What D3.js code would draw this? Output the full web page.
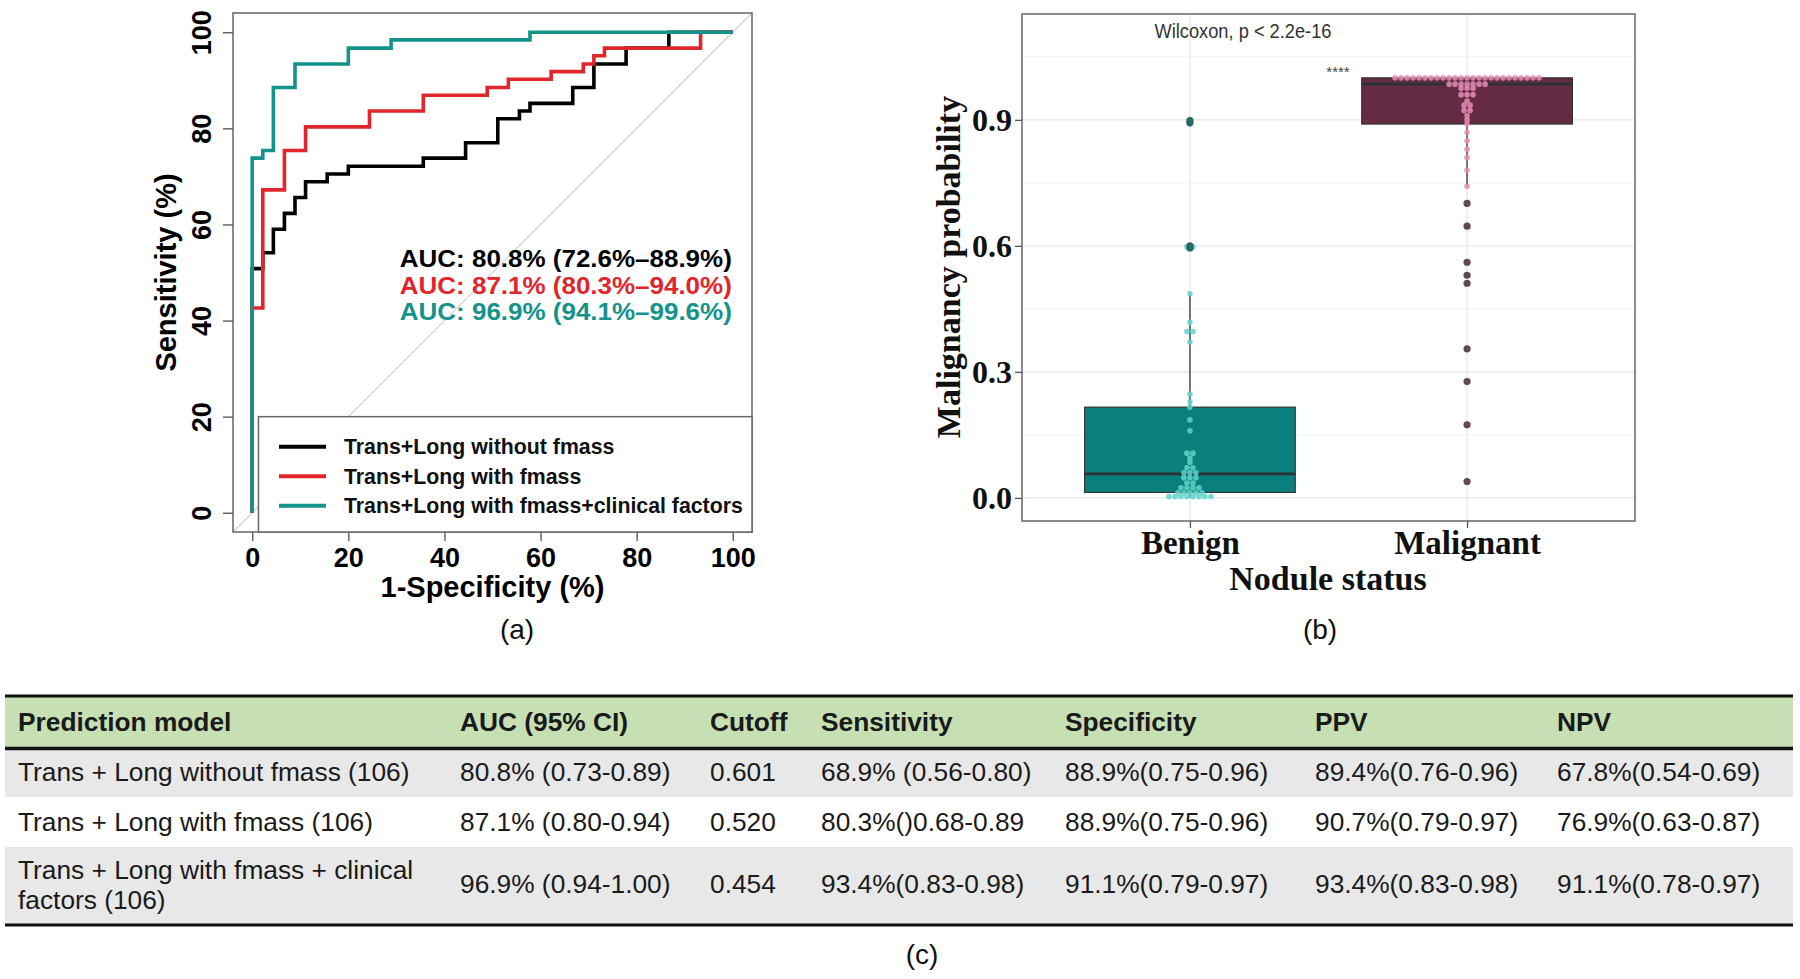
<!DOCTYPE html>
<html><head><meta charset="utf-8">
<script src="https://cdn.jsdelivr.net/npm/d3@7"></script>
<style>body{margin:0;background:#fff}</style>
</head><body><svg id="c" width="1800" height="979"></svg>
<script>
// ---------------- DATA ----------------
// (a) ROC curves: 1-specificity (%) and sensitivity (%) step corners
const rocTicks = [0, 20, 40, 60, 80, 100];
const rocNames = ["Trans+Long without fmass", "Trans+Long with fmass", "Trans+Long with fmass+clinical factors"];
const rocColors = ["#000000", "#E0262B", "#14938A"];
const fprWithout = [0, 0, 2.2, 4.4, 6.7, 8.9, 11.1, 15.6, 20.0, 35.6, 44.4, 51.1, 55.6, 57.8, 66.7, 71.1, 77.8, 86.7, 100];
const sensWithout = [0, 50.8, 54.1, 59.0, 62.3, 65.6, 68.9, 70.5, 72.1, 73.8, 77.0, 82.0, 83.6, 85.2, 88.5, 93.4, 96.7, 100, 100];
const fprWith = [0, 0, 2.2, 6.7, 11.1, 24.4, 35.6, 48.9, 53.3, 62.2, 68.9, 71.1, 73.3, 93.3, 100];
const sensWith = [0, 42.6, 67.2, 75.4, 80.3, 83.6, 86.9, 88.5, 90.2, 91.8, 93.4, 95.1, 96.7, 100, 100];
const fprClinical = [0, 0, 2.2, 4.4, 8.9, 20.0, 28.9, 57.8, 100];
const sensClinical = [0, 73.8, 75.4, 88.5, 93.4, 96.7, 98.4, 100, 100];
const aucLabels = ["AUC: 80.8% (72.6%–88.9%)", "AUC: 87.1% (80.3%–94.0%)", "AUC: 96.9% (94.1%–99.6%)"];

// (b) Box / dot plot of malignancy probability
const categories = ["Benign", "Malignant"];
const boxColors = ["#0A807D", "#652B45"];
const dotColors = ["#5FD5CB", "#E88DB4"];
const outlierColors = ["#2A6463", "#624656"];
const benignValues = [0.001, 0.002, 0.002, 0.003, 0.003, 0.004, 0.004, 0.005,
  0.010, 0.011, 0.012, 0.013, 0.014, 0.022, 0.024, 0.025, 0.026, 0.034, 0.037,
  0.045, 0.048, 0.050, 0.057, 0.060, 0.062, 0.070, 0.073, 0.085, 0.095, 0.105, 0.108,
  0.160, 0.186, 0.216, 0.229, 0.247, 0.371, 0.394, 0.398, 0.418, 0.486,
  0.595, 0.600, 0.893, 0.898];
const malignantValues = [0.039, 0.174, 0.277, 0.355, 0.511, 0.530, 0.561, 0.647, 0.701,
  0.742, 0.780, 0.810, 0.830, 0.850, 0.870,
  0.890, 0.900, 0.910, 0.920, 0.925, 0.930, 0.940, 0.945, 0.955, 0.960, 0.965,
  0.975, 0.975, 0.975,
  0.985, 0.985, 0.985, 0.985, 0.985, 0.985, 0.985,
  1.0, 1.0, 1.0, 1.0, 1.0, 1.0, 1.0, 1.0, 1.0, 1.0, 1.0, 1.0, 1.0, 1.0, 1.0, 1.0, 1.0,
  1.0, 1.0, 1.0, 1.0, 1.0, 1.0, 1.0, 1.0];
const probTicks = [0, 0.3, 0.6, 0.9];
const probMinor = [0.15, 0.45, 0.75, 1.05];
const testLabel = "Wilcoxon, p < 2.2e-16";
const signifLabel = "****";

// (c) table
const tableHeader = ["Prediction model", "AUC (95% CI)", "Cutoff", "Sensitivity", "Specificity", "PPV", "NPV"];
const tableRow1 = ["Trans + Long without fmass (106)", "80.8% (0.73-0.89)", "0.601", "68.9% (0.56-0.80)", "88.9%(0.75-0.96)", "89.4%(0.76-0.96)", "67.8%(0.54-0.69)"];
const tableRow2 = ["Trans + Long with fmass (106)", "87.1% (0.80-0.94)", "0.520", "80.3%()0.68-0.89", "88.9%(0.75-0.96)", "90.7%(0.79-0.97)", "76.9%(0.63-0.87)"];
const tableRow3 = ["Trans + Long with fmass + clinical|factors (106)", "96.9% (0.94-1.00)", "0.454", "93.4%(0.83-0.98)", "91.1%(0.79-0.97)", "93.4%(0.83-0.98)", "91.1%(0.78-0.97)"];
const panelLabels = ["(a)", "(b)", "(c)"];

// ---------------- DRAW ----------------
const svg = d3.select("#c");
svg.append("rect").attr("width", 1800).attr("height", 979).attr("fill", "#fff");
const SANS = "'Liberation Sans', Arial, sans-serif";
const SERIF = "'Liberation Serif', 'Times New Roman', serif";

// ===== (a) ROC =====
const rx = d3.scaleLinear().domain([-4, 104]).range([233, 752]);
const ry = d3.scaleLinear().domain([-4, 104]).range([532, 13]);
const roc = svg.append("g");
roc.append("line").attr("x1", rx(-4)).attr("y1", ry(-4)).attr("x2", rx(104)).attr("y2", ry(104))
  .attr("stroke", "#cfcfcf").attr("stroke-width", 1.2);
const rocSeries = [
  { name: rocNames[0], color: rocColors[0], fpr: fprWithout, sens: sensWithout },
  { name: rocNames[1], color: rocColors[1], fpr: fprWith, sens: sensWith },
  { name: rocNames[2], color: rocColors[2], fpr: fprClinical, sens: sensClinical }
];
const stepLine = d3.line().x(d => rx(d[0])).y(d => ry(d[1])).curve(d3.curveStepAfter);
rocSeries.forEach(s => {
  roc.append("path").attr("d", stepLine(d3.zip(s.fpr, s.sens)))
    .attr("fill", "none").attr("stroke", s.color).attr("stroke-width", 3.6)
    .attr("stroke-linejoin", "miter");
});
roc.append("rect").attr("x", rx(-4)).attr("y", ry(104)).attr("width", rx(104) - rx(-4)).attr("height", ry(-4) - ry(104))
  .attr("fill", "none").attr("stroke", "#666").attr("stroke-width", 1.5);
const yAxR = roc.append("g").attr("transform", `translate(${rx(-4)},0)`)
  .call(d3.axisLeft(ry).tickValues(rocTicks).tickSize(10).tickSizeOuter(0));
yAxR.select(".domain").remove();
yAxR.selectAll("line").attr("stroke", "#666").attr("stroke-width", 1.5);
yAxR.selectAll("text").attr("x", null).attr("dy", null).attr("text-anchor", "middle")
  .attr("transform", "translate(-22,0) rotate(-90)")
  .attr("font-family", SANS).attr("font-weight", "bold").attr("font-size", 27).attr("fill", "#000");
const xAxR = roc.append("g").attr("transform", `translate(0,${ry(-4)})`)
  .call(d3.axisBottom(rx).tickValues(rocTicks).tickSize(9).tickSizeOuter(0));
xAxR.select(".domain").remove();
xAxR.selectAll("line").attr("stroke", "#666").attr("stroke-width", 1.5);
xAxR.selectAll("text").attr("y", 35).attr("dy", null)
  .attr("font-family", SANS).attr("font-weight", "bold").attr("font-size", 27).attr("fill", "#000");
roc.append("text").attr("x", (rx(0) + rx(100)) / 2).attr("y", 597).attr("text-anchor", "middle")
  .attr("font-family", SANS).attr("font-weight", "bold").attr("font-size", 29).text("1-Specificity (%)");
roc.append("text").attr("transform", `translate(176,${(ry(0) + ry(100)) / 2}) rotate(-90)`).attr("text-anchor", "middle")
  .attr("font-family", SANS).attr("font-weight", "bold").attr("font-size", 29).text("Sensitivity (%)");
aucLabels.forEach((t, i) => {
  roc.append("text").attr("x", rx(99.8)).attr("y", 267 + i * 26.5).attr("text-anchor", "end")
    .attr("font-family", SANS).attr("font-weight", "bold").attr("font-size", 23.5)
    .attr("textLength", 332).attr("lengthAdjust", "spacingAndGlyphs")
    .attr("fill", rocColors[i]).text(t);
});
const lgX = rx(1.3), lgY = ry(20);
roc.append("rect").attr("x", lgX).attr("y", lgY).attr("width", rx(104) - lgX).attr("height", ry(-4) - lgY)
  .attr("fill", "#fff").attr("stroke", "#666").attr("stroke-width", 1.5);
rocSeries.forEach((s, i) => {
  const yy = lgY + 30 + i * 29.5;
  roc.append("line").attr("x1", 279).attr("x2", 326).attr("y1", yy).attr("y2", yy)
    .attr("stroke", s.color).attr("stroke-width", 4);
  roc.append("text").attr("x", 344).attr("y", yy).attr("dy", "0.36em")
    .attr("font-family", SANS).attr("font-weight", "bold").attr("font-size", 21.3).attr("fill", "#111").text(s.name);
});

// ===== (b) box + dot plot =====
const bx = d3.scalePoint().domain(categories).range([1022, 1635]).padding(0.606);
const by = d3.scaleLinear().domain([-0.055, 1.152]).range([521, 14]);
const bp = svg.append("g");
probMinor.forEach(v => bp.append("line").attr("x1", 1022).attr("x2", 1635).attr("y1", by(v)).attr("y2", by(v))
  .attr("stroke", "#f2f2f2").attr("stroke-width", 1));
probTicks.forEach(v => bp.append("line").attr("x1", 1022).attr("x2", 1635).attr("y1", by(v)).attr("y2", by(v))
  .attr("stroke", "#e6e6e6").attr("stroke-width", 1.3));
categories.forEach(c => bp.append("line").attr("x1", bx(c)).attr("x2", bx(c)).attr("y1", 14).attr("y2", 521)
  .attr("stroke", "#e6e6e6").attr("stroke-width", 1.3));

const boxW = bx.step() * 0.76;
const groups = [benignValues, malignantValues];
groups.forEach((vals, gi) => {
  const c = categories[gi];
  const s = vals.slice().sort(d3.ascending);
  const q1 = d3.quantile(s, 0.25), med = d3.quantile(s, 0.5), q3 = d3.quantile(s, 0.75);
  const iqr = q3 - q1;
  const lo = d3.min(s.filter(v => v >= q1 - 1.5 * iqr));
  const hi = d3.max(s.filter(v => v <= q3 + 1.5 * iqr));
  const outs = s.filter(v => v < lo || v > hi);
  const cx = bx(c);
  bp.append("line").attr("x1", cx).attr("x2", cx).attr("y1", by(q3)).attr("y2", by(hi)).attr("stroke", "#555").attr("stroke-width", 1.6);
  bp.append("line").attr("x1", cx).attr("x2", cx).attr("y1", by(q1)).attr("y2", by(lo)).attr("stroke", "#555").attr("stroke-width", 1.6);
  bp.append("rect").attr("x", cx - boxW / 2).attr("y", by(q3)).attr("width", boxW).attr("height", by(q1) - by(q3))
    .attr("fill", boxColors[gi]).attr("stroke", "#333").attr("stroke-width", 1.2);
  bp.append("line").attr("x1", cx - boxW / 2).attr("x2", cx + boxW / 2).attr("y1", by(med)).attr("y2", by(med))
    .attr("stroke", "#2b3236").attr("stroke-width", 2.8);
  const binw = 0.012;
  const bins = d3.groups(s, v => Math.round(v / binw));
  bins.forEach(([k, arr]) => {
    const yv = d3.mean(arr);
    arr.forEach((v, j) => {
      bp.append("circle").attr("cx", cx + (j - (arr.length - 1) / 2) * 6).attr("cy", by(yv)).attr("r", 2.8)
        .attr("fill", dotColors[gi]).attr("fill-opacity", 0.85);
    });
  });
  outs.forEach(v => bp.append("circle").attr("cx", cx).attr("cy", by(v)).attr("r", 3.6).attr("fill", outlierColors[gi]));
});
bp.append("rect").attr("x", 1022).attr("y", 14).attr("width", 613).attr("height", 507)
  .attr("fill", "none").attr("stroke", "#666").attr("stroke-width", 1.5);
const yAxB = bp.append("g").attr("transform", "translate(1022,0)")
  .call(d3.axisLeft(by).tickValues(probTicks).tickFormat(d3.format(".1f")).tickSize(7).tickPadding(3).tickSizeOuter(0));
yAxB.select(".domain").remove();
yAxB.selectAll("line").attr("stroke", "#555").attr("stroke-width", 1.3);
yAxB.selectAll("text").attr("font-family", SERIF).attr("font-weight", "bold").attr("font-size", 32).attr("fill", "#111");
const xAxB = bp.append("g").attr("transform", "translate(0,521)")
  .call(d3.axisBottom(bx).tickSize(7).tickSizeOuter(0));
xAxB.select(".domain").remove();
xAxB.selectAll("line").attr("stroke", "#555").attr("stroke-width", 1.3);
xAxB.selectAll("text").attr("y", 33).attr("dy", null)
  .attr("font-family", SERIF).attr("font-weight", "bold").attr("font-size", 33).attr("fill", "#111");
bp.append("text").attr("x", 1328).attr("y", 590).attr("text-anchor", "middle")
  .attr("font-family", SERIF).attr("font-weight", "bold").attr("font-size", 34).attr("fill", "#111").text("Nodule status");
bp.append("text").attr("transform", "translate(960,267) rotate(-90)").attr("text-anchor", "middle")
  .attr("font-family", SERIF).attr("font-weight", "bold").attr("font-size", 34).attr("fill", "#111").text("Malignancy probability");
bp.append("text").attr("x", 1243).attr("y", 38).attr("text-anchor", "middle")
  .attr("font-family", SANS).attr("font-size", 20).attr("fill", "#333")
  .attr("textLength", 177).attr("lengthAdjust", "spacingAndGlyphs").text(testLabel);
bp.append("text").attr("x", 1338).attr("y", 77).attr("text-anchor", "middle")
  .attr("font-family", SANS).attr("font-size", 15).attr("fill", "#444").text(signifLabel);

// ===== (c) table =====
const tb = svg.append("g");
const colX = [18, 460, 710, 821, 1065, 1315, 1557];
const tL = 5, tR = 1793;
tb.append("rect").attr("x", tL).attr("y", 697).attr("width", tR - tL).attr("height", 50).attr("fill", "#C6E0B4");
tb.append("rect").attr("x", tL).attr("y", 750).attr("width", tR - tL).attr("height", 47).attr("fill", "#E8E8E8");
tb.append("rect").attr("x", tL).attr("y", 847).attr("width", tR - tL).attr("height", 77).attr("fill", "#E8E8E8");
[[696, 3], [748.5, 3.5], [925, 3.2]].forEach(([y, w]) =>
  tb.append("line").attr("x1", tL).attr("x2", tR).attr("y1", y).attr("y2", y).attr("stroke", "#111").attr("stroke-width", w));
tableHeader.forEach((t, i) => tb.append("text").attr("x", colX[i]).attr("y", 731)
  .attr("font-family", SANS).attr("font-weight", "bold").attr("font-size", 26.3).attr("fill", "#1a1a1a").text(t));
const rowsBase = [781, 831, 893];
[tableRow1, tableRow2, tableRow3].forEach((row, r) => {
  row.forEach((t, i) => {
    const parts = t.split("|");
    if (parts.length > 1) {
      parts.forEach((p, k) => tb.append("text").attr("x", colX[i]).attr("y", rowsBase[r] - 14 + k * 30)
        .attr("font-family", SANS).attr("font-size", 26.3).attr("fill", "#1a1a1a").text(p));
    } else {
      tb.append("text").attr("x", colX[i]).attr("y", rowsBase[r])
        .attr("font-family", SANS).attr("font-size", 26.3).attr("fill", "#1a1a1a").text(t);
    }
  });
});

[[517, 639], [1320, 639], [922, 964]].forEach(([x, y], i) =>
  svg.append("text").attr("x", x).attr("y", y).attr("text-anchor", "middle")
    .attr("font-family", SANS).attr("font-size", 28).attr("fill", "#111").text(panelLabels[i]));
</script>
</body></html>
